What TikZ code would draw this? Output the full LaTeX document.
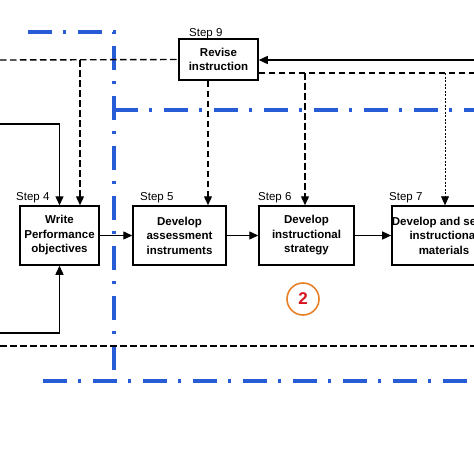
\documentclass[tikz,border=0pt]{standalone}
\usepackage{fontspec}
\setmainfont{Liberation Sans}
\usetikzlibrary{arrows.meta}
\definecolor{bluec}{RGB}{40,92,214}
\definecolor{orangec}{RGB}{232,128,40}
\definecolor{redc}{RGB}{215,20,30}
\tikzset{
  box/.style={draw, line width=1.5pt, fill=white, align=center, inner sep=0pt,
    font=\bfseries\fontsize{11.5}{14.5}\selectfont},
  steplabel/.style={anchor=base west, inner sep=0pt, font=\fontsize{11.5}{13}\selectfont},
  arr/.style={-{Triangle[length=9pt,width=8pt]}},
  blk/.style={line width=1.4pt},
  dsh/.style={line width=1.4pt, dash pattern=on 6.5pt off 3.5pt},
  dotl/.style={line width=0.7pt, dash pattern=on 2pt off 1.5pt},
  bluedd/.style={line width=3.2pt, draw=bluec, dash pattern=on 24pt off 11pt on 3pt off 12pt},
}
\begin{document}
\begin{tikzpicture}[x=1pt,y=-1pt]
\useasboundingbox (0,0) rectangle (474,474);
\clip (0,0) rectangle (474,474);
% blue dash-dot region borders
\draw[bluedd] (28,32) -- (114,32) -- (114,381);
\draw[bluedd] (43,381) -- (474,381);
\draw[bluedd] (114,110) -- (474,110);
% boxes
\node[box, minimum width=79pt, minimum height=41pt] (r9) at (218.5,59.5) {Revise\\instruction};
\node[box, minimum width=79pt, minimum height=59pt] (w4) at (59.5,235.5) {Write\\Performance\\objectives};
\node[box, minimum width=93pt, minimum height=59pt] (d5) at (179.5,235.5) {Develop\\assessment\\instruments};
\node[box, minimum width=95pt, minimum height=59pt] (d6) at (306.5,235.5) {Develop\\instructional\\strategy};
\node[box, minimum width=104pt, minimum height=59pt] (d7) at (444,235.5) {Develop and select\\instructional\\materials};
% step labels
\node[steplabel] (s9) at (189,36) {Step 9};
\node[steplabel] (s4) at (16,200) {Step 4};
\node[steplabel] (s5) at (140,200) {Step 5};
\node[steplabel] (s6) at (258,200) {Step 6};
\node[steplabel] (s7) at (389,200) {Step 7};
% circle 2
\node[circle, draw=orangec, line width=1.6pt, minimum size=32pt, inner sep=0pt, text=redc,
  font=\bfseries\fontsize{17}{17}\selectfont] (c2) at (303,299) {2};
% coordinates
\coordinate (tl) at (0,60);
\coordinate (j4) at (80,60);
\coordinate (tr) at (474,60);
\coordinate (dr) at (474,73);
\coordinate (j6) at (305,73);
\coordinate (j7) at (445,73);
\coordinate (l1) at (0,124);
\coordinate (k1) at (59.5,124);
\coordinate (l2) at (0,333);
\coordinate (k2) at (59.5,333);
\coordinate (bl) at (0,346);
\coordinate (br) at (474,346);
% black dashed feedback lines
\draw[dsh] (tl) -- (r9.west);
\draw[dsh, arr] (j4) -- (j4 |- w4.north);
\draw[dsh] (r9.east |- dr) -- (dr);
\draw[dsh, arr] (r9.south -| 208,0) -- (208,0 |- d5.north);
\draw[dsh, arr] (j6) -- (j6 |- d6.north);
\draw[dotl, arr] (j7) -- (j7 |- d7.north);
\draw[dsh] (bl) -- (br);
% solid lines
\draw[blk, arr] (tr) -- (r9.east |- tr);
\draw[blk, arr] (l1) -- (k1) -- (w4.north);
\draw[blk, arr] (l2) -- (k2) -- (w4.south);
\draw[blk, arr] (w4) -- (d5);
\draw[blk, arr] (d5) -- (d6);
\draw[blk, arr] (d6) -- (d7);
\end{tikzpicture}
\end{document}
